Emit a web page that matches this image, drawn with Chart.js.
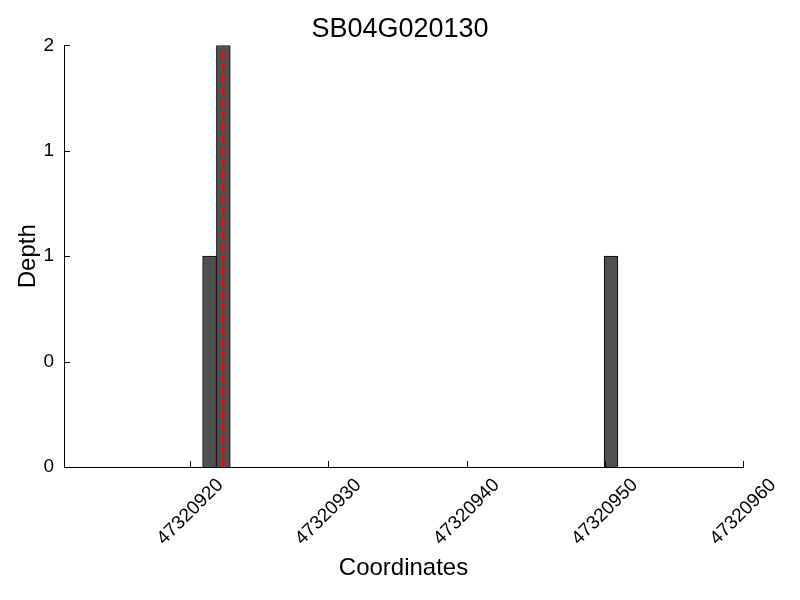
<!DOCTYPE html>
<html>
<head>
<meta charset="utf-8">
<script src="https://cdn.jsdelivr.net/npm/chart.js@4"></script>
<style>
  html, body { margin: 0; padding: 0; background: #fff; }
  #wrap { width: 800px; height: 600px; }
</style>
</head>
<body>
<div id="wrap"><canvas id="chart" width="800" height="600"></canvas></div>
<script>
// Data
const chartTitle = 'SB04G020130';
const binCenters = [47320921.4, 47320922.4, 47320950.45];
const depths = [1, 2, 1];
const markerPos = 47320922.4;
const xTicks = [47320920, 47320930, 47320940, 47320950, 47320960];
const yTicks = [0, 0.5, 1, 1.5, 2];
const xMin = 47320910.87;
const xMax = 47320960;

Chart.defaults.font.family = "'Liberation Sans', Arial, sans-serif";
Chart.defaults.color = '#000';

// Small tick marks pointing into the plot, like the original
const innerTicks = {
    id: 'innerTicks',
    afterDraw(chart) {
        const ctx = chart.ctx;
        const x = chart.scales.x;
        const y = chart.scales.y;
        ctx.save();
        ctx.strokeStyle = '#000';
        ctx.lineWidth = 1;
        ctx.beginPath();
        x.ticks.forEach((t, i) => {
            const px = Math.round(x.getPixelForTick(i)) + 0.5;
            ctx.moveTo(px, x.top);
            ctx.lineTo(px, x.top - 6);
        });
        y.ticks.forEach((t, i) => {
            const py = Math.round(y.getPixelForTick(i)) + 0.5;
            ctx.moveTo(y.right, py);
            ctx.lineTo(y.right + 6, py);
        });
        ctx.stroke();
        ctx.restore();
    }
};

const ctx = document.getElementById('chart').getContext('2d');
new Chart(ctx, {
    type: 'bar',
    data: {
        datasets: [
            {
                type: 'line',
                data: [{ x: markerPos, y: 0 }, { x: markerPos, y: 2 }],
                borderColor: '#ff0000',
                borderWidth: 2.5,
                borderDash: [8, 4],
                pointRadius: 0,
                order: 0
            },
            {
                type: 'bar',
                data: binCenters.map((c, i) => ({ x: c, y: depths[i] })),
                backgroundColor: '#505050',
                borderColor: '#000',
                borderWidth: 1,
                barPercentage: 1,
                categoryPercentage: 1,
                order: 1
            }
        ]
    },
    options: {
        responsive: false,
        animation: false,
        layout: { padding: 0 },
        plugins: {
            legend: { display: false },
            tooltip: { enabled: false },
            title: {
                display: true,
                text: chartTitle,
                font: { size: 27, weight: 'normal' },
                color: '#000',
                padding: { top: 13, bottom: 0 }
            }
        },
        scales: {
            x: {
                type: 'linear',
                min: xMin,
                max: xMax,
                offset: false,
                afterBuildTicks: scale => { scale.ticks = xTicks.map(v => ({ value: v })); },
                afterFit: scale => { scale.height = 133; },
                grid: { display: false, offset: false, drawTicks: false },
                border: { display: true, color: '#000', width: 1 },
                ticks: {
                    autoSkip: false,
                    minRotation: 45,
                    maxRotation: 45,
                    padding: 7,
                    labelOffset: 30,
                    font: { size: 19 },
                    callback: v => String(v)
                },
                title: {
                    display: true,
                    text: 'Coordinates',
                    font: { size: 24 },
                    padding: { top: 0, bottom: 17 }
                }
            },
            y: {
                type: 'linear',
                min: 0,
                max: 2,
                afterBuildTicks: scale => { scale.ticks = yTicks.map(v => ({ value: v })); },
                afterFit: scale => { scale.width = 64; },
                grid: { display: false, drawTicks: false },
                border: { display: true, color: '#000', width: 1 },
                ticks: {
                    padding: 10,
                    font: { size: 19 },
                    callback: v => String(Math.floor(v))
                },
                title: {
                    display: true,
                    text: 'Depth',
                    font: { size: 24 },
                    padding: { top: 14, bottom: 0 }
                }
            },
            yRight: {
                type: 'linear',
                position: 'right',
                display: true,
                afterFit: scale => { scale.width = 57; },
                grid: { display: false, drawTicks: false },
                border: { display: false },
                ticks: { display: false }
            }
        }
    },
    plugins: [innerTicks]
});
</script>
</body>
</html>
